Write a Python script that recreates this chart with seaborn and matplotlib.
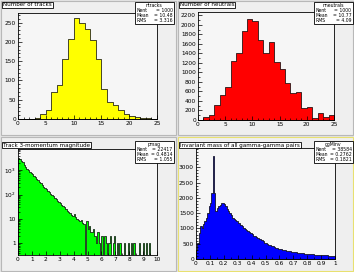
import numpy as np
import pandas as pd
import matplotlib
matplotlib.use("Agg")
import matplotlib.pyplot as plt
import matplotlib.patches as mpatches
import matplotlib.ticker as mticker
import seaborn as sns

# ---- data ----
ntracks_edges = np.arange(0, 26, 1)
ntracks_counts = [0, 0, 1, 2, 13, 24, 70, 87, 155, 207, 261, 250, 234,
                  205, 155, 78, 44, 37, 24, 13, 9, 5, 3, 2, 0]

nneutrals_edges = np.arange(0, 26, 1)
nneutrals_counts = [0, 69, 97, 318, 519, 685, 1232, 1412, 1869, 2131, 2076,
                    1689, 1398, 1633, 1225, 1066, 775, 567, 581, 249, 277,
                    42, 138, 62, 97]

pmag_edges = np.linspace(0, 10, 101)
pmag_counts = [3300, 2900, 2500, 2100, 1700, 1350, 1150, 1000, 880, 780,
               690, 590, 520, 440, 390, 330, 290, 250, 215, 190,
               165, 145, 125, 108, 97, 84, 74, 64, 57, 50,
               46, 38, 34, 30, 26, 22, 20, 18, 15, 13,
               16, 12, 10, 9, 8, 9, 7, 6, 0, 8,
               4, 5, 3, 3, 4, 2, 1, 3, 1, 0,
               2, 0, 2, 1, 0, 1, 2, 0, 1, 2,
               0, 1, 0, 1, 0, 0, 1, 0, 0, 1,
               0, 1, 0, 1, 0, 0, 0, 1, 0, 0,
               1, 0, 1, 0, 1, 0, 0, 0, 0, 0]

minv_edges = np.linspace(0, 1, 101)
minv_counts = [300, 530, 860, 1080, 1020, 1130, 1240, 1350, 1510, 1730,
               1840, 2160, 3360, 2160, 1565, 1670, 1720, 1780, 1840, 1840,
               1790, 1720, 1620, 1560, 1490, 1440, 1350, 1300, 1270, 1240,
               1190, 1170, 1110, 1076, 1010, 980, 950, 920, 880, 840,
               810, 750, 740, 720, 680, 660, 640, 610, 580, 533,
               520, 480, 470, 450, 424, 410, 390, 370, 350, 337,
               330, 315, 300, 290, 280, 270, 260, 250, 245, 240,
               230, 225, 215, 205, 200, 195, 185, 180, 176, 174,
               170, 165, 160, 150, 150, 140, 145, 135, 132, 130,
               128, 125, 120, 118, 115, 112, 110, 105, 100, 98]

W, H = 354, 272
fig = plt.figure(figsize=(W / 100, H / 100), dpi=100)
fig.patch.set_facecolor("#e4e4e4")


def px(x, y, w, h):
    return [x / W, 1 - (y + h) / H, w / W, h / H]


pads = [(0, 0), (177, 0), (0, 136), (177, 136)]
for i, (x0, y0) in enumerate(pads):
    ec = "#e8e070" if i == 3 else "#b8b8b8"
    r = mpatches.Rectangle((x0 / W + 0.002, 1 - (y0 + 135) / H), 175 / W, 134 / H,
                           transform=fig.transFigure, facecolor="#efefef",
                           edgecolor=ec, linewidth=0.8, zorder=-5)
    fig.patches.append(r)

specs = [
    dict(edges=ntracks_edges, counts=ntracks_counts, color="#ffff00",
         frame=(18, 13, 139, 106), ylim=(0, 275), xt=[0, 5, 10, 15, 20, 25],
         yt=[0, 50, 100, 150, 200, 250], title="Number of tracks",
         tbox=(2, 1), name="ntracks", stats=["1000", "10.48", "3.316"],
         sbox=(135, 2)),
    dict(edges=nneutrals_edges, counts=nneutrals_counts, color="#ff0000",
         frame=(198, 12, 136, 108), ylim=(0, 2270), xt=[0, 5, 10, 15, 20, 25],
         yt=list(range(0, 2201, 200)), title="Number of neutrals",
         tbox=(179, 1), name="nneutrals", stats=["1000", "10.77", "4.09"],
         sbox=(314, 2)),
    dict(edges=pmag_edges, counts=pmag_counts, color="#00ff00",
         frame=(18, 149, 139, 106), ylim=(0.33, 7500), xt=list(range(0, 11)),
         yt=[1, 10, 100, 1000], title="Track 3-momentum magnitude",
         tbox=(2, 141), name="pmag", stats=["22417", "0.4814", "1.055"],
         sbox=(135, 141), log=True),
    dict(edges=minv_edges, counts=minv_counts, color="#0000ff",
         frame=(196, 148, 139, 111), ylim=(0, 3630),
         xt=[round(v, 1) for v in np.arange(0, 1.01, 0.1)],
         yt=[0, 500, 1000, 1500, 2000, 2500, 3000],
         title="Invariant mass of all gamma-gamma pairs",
         tbox=(179, 141), name="ggMinv", stats=["38584", "0.2762", "0.1821"],
         sbox=(314, 141), mass=True),
]

for s in specs:
    ax = fig.add_axes(px(*s["frame"]))
    ax.set_facecolor("#f6f6f6")
    edges = np.asarray(s["edges"])
    centers = (edges[:-1] + edges[1:]) / 2
    df = pd.DataFrame({"x": centers, "w": s["counts"]})
    sns.histplot(data=df, x="x", weights="w", bins=edges.tolist(), element="step",
                 fill=True, color=s["color"], edgecolor="black", linewidth=0.5,
                 alpha=1, ax=ax)
    if s.get("log"):
        ax.set_yscale("log")
    ax.set_xlim(edges[0], edges[-1])
    ax.set_ylim(*s["ylim"])
    ax.set_xlabel("")
    ax.set_ylabel("")
    ax.set_xticks(s["xt"])
    if s.get("mass"):
        ax.set_xticklabels(["0"] + [f"{v:.1f}" for v in s["xt"][1:-1]] + ["1"])
    ax.set_yticks(s["yt"])
    if s.get("log"):
        ax.set_yticklabels(["1", "10", r"$10^{2}$", r"$10^{3}$"])
    else:
        ax.set_yticklabels([str(v) for v in s["yt"]])
        ax.yaxis.set_minor_locator(mticker.AutoMinorLocator(5 if len(s["yt"]) < 9 else 2))
    ax.xaxis.set_minor_locator(mticker.AutoMinorLocator(5 if len(s["xt"]) < 8 else 2))
    ax.tick_params(which="both", direction="in", top=False, right=False,
                   labelsize=4.2, width=0.5, pad=1.5)
    ax.tick_params(which="major", length=3)
    ax.tick_params(which="minor", length=1.5)
    for sp in ax.spines.values():
        sp.set_linewidth(0.6)
        sp.set_color("black")

    tx, ty = s["tbox"]
    fig.text((tx + 1) / W, 1 - (ty + 4) / H, s["title"], fontsize=4.1,
             ha="left", va="center",
             bbox=dict(boxstyle="square,pad=0.15", facecolor="white",
                       edgecolor="black", linewidth=0.6))

    sx, sy = s["sbox"]
    sw, sh = 39, 22
    fig.patches.append(mpatches.Rectangle((sx / W, 1 - (sy + sh) / H), sw / W, sh / H,
                                          transform=fig.transFigure, facecolor="white",
                                          edgecolor="black", linewidth=0.6, zorder=5))
    fig.text((sx + sw / 2) / W, 1 - (sy + 3.2) / H, s["name"], fontsize=3.3,
             ha="center", va="center", zorder=6)
    for k, (lab, val) in enumerate(zip(["Nent", "Mean", "RMS"], s["stats"])):
        yy = 1 - (sy + 8.5 + 5 * k) / H
        fig.text((sx + 1.5) / W, yy, lab, fontsize=3.3, ha="left", va="center", zorder=6)
        fig.text((sx + sw - 1.5) / W, yy, "= " + val, fontsize=3.3, ha="right",
                 va="center", zorder=6)

fig.savefig("out.png", dpi=100, facecolor=fig.get_facecolor())
